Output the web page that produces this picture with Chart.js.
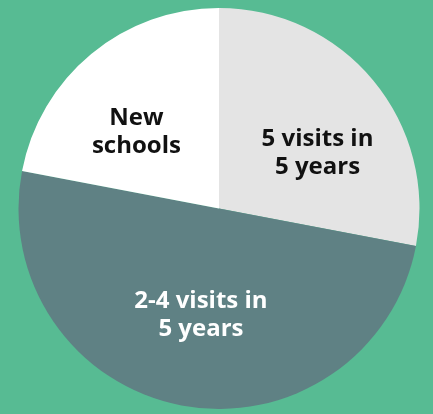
<!DOCTYPE html>
<html>
<head>
<meta charset="utf-8">
<title>School visits</title>
<script src="https://cdn.jsdelivr.net/npm/chart.js"></script>
<style>
  html, body { margin: 0; padding: 0; background: #57bb93; }
  #wrap { width: 433px; height: 414px; }
</style>
</head>
<body>
<div id="wrap"><canvas id="pie"></canvas></div>
<script>
// Slices clockwise from 12 o'clock
const categories = [['5 visits in', '5 years'], ['2-4 visits in', '5 years'], ['New', 'schools']];
const shares = [28, 50, 22];

const sliceColors = ['#e4e4e4', '#5f8184', '#ffffff'];
const labelColors = ['#111111', '#ffffff', '#111111'];
// small hand nudges (px) so the labels sit where the original put them
const labelNudge = [[12, 16], [3, -4], [-11, 10]];

// Draw the labels inside each slice, along its middle angle
const sliceLabels = {
  id: 'sliceLabels',
  afterDatasetsDraw(chart) {
    const ctx = chart.ctx;
    const meta = chart.getDatasetMeta(0);
    ctx.save();
    ctx.font = 'bold 24px "Open Sans", sans-serif';
    ctx.textAlign = 'center';
    ctx.textBaseline = 'middle';
    meta.data.forEach((arc, i) => {
      const mid = (arc.startAngle + arc.endAngle) / 2;
      const r = arc.outerRadius * 0.56;
      const x = arc.x + Math.cos(mid) * r + labelNudge[i][0];
      const y = arc.y + Math.sin(mid) * r + labelNudge[i][1];
      const lines = chart.data.labels[i];
      ctx.fillStyle = labelColors[i];
      lines.forEach((line, j) => {
        ctx.fillText(line, x, y + (j - (lines.length - 1) / 2) * 28);
      });
    });
    ctx.restore();
  },
};

new Chart(document.getElementById('pie'), {
  type: 'pie',
  data: {
    labels: categories,
    datasets: [{
      data: shares,
      backgroundColor: sliceColors,
      borderWidth: 0,
    }],
  },
  options: {
    responsive: true,
    maintainAspectRatio: false,
    animation: false,
    layout: { padding: { top: 8, bottom: 5, left: 5, right: 0 } },
    plugins: {
      legend: { display: false },
      tooltip: { enabled: false },
    },
  },
  plugins: [sliceLabels],
});
</script>
</body>
</html>
